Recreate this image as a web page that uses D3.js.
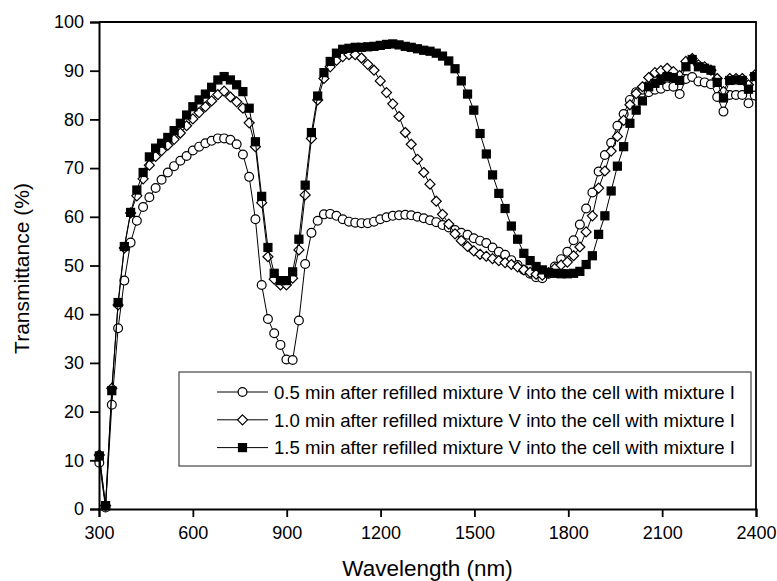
<!DOCTYPE html>
<html>
<head>
<meta charset="utf-8">
<script src="https://cdn.jsdelivr.net/npm/d3@7"></script>
<style>
  body { margin: 0; background: #fff; }
  svg { display: block; font-family: 'Liberation Sans', Arial, sans-serif; }
</style>
</head>
<body>
<div id="chart"></div>
<script>
// wavelength grid (nm)
const wavelengths = [
  301, 321, 341, 361, 381, 401, 421, 441, 461, 481,
  500, 520, 540, 560, 580, 600, 620, 640, 660, 680,
  700, 720, 740, 760, 780, 800, 820, 840, 860, 880,
  899, 919, 939, 959, 979, 999, 1019, 1039, 1059, 1079,
  1099, 1119, 1139, 1159, 1179, 1199, 1219, 1239, 1259, 1279,
  1298, 1318, 1338, 1358, 1378, 1398, 1418, 1438, 1458, 1478,
  1498, 1518, 1538, 1558, 1578, 1598, 1618, 1638, 1658, 1678,
  1697, 1717, 1737, 1757, 1777, 1797, 1817, 1837, 1857, 1877,
  1897, 1917, 1937, 1957, 1977, 1997, 2017, 2037, 2057, 2077,
  2096, 2116, 2136, 2156, 2176, 2196, 2216, 2236, 2256, 2276,
  2296, 2316, 2336, 2356, 2376, 2396
];

// transmittance (%) — 0.5 min
const series05 = [
  9.5, 0.3, 21.4, 37.1, 46.9, 54.7, 59.2, 62.0, 64.0, 65.9,
  67.6, 69.1, 70.4, 71.5, 72.5, 73.6, 74.4, 75.1, 75.6, 76.1,
  76.1, 75.8, 74.9, 72.8, 68.2, 59.5, 46.0, 39.0, 36.1, 33.7,
  30.7, 30.6, 38.7, 50.3, 56.7, 59.2, 60.5, 60.6, 60.2, 59.5,
  59.0, 58.8, 58.7, 58.7, 59.0, 59.5, 59.9, 60.2, 60.3, 60.4,
  60.3, 60.0, 59.7, 59.3, 58.9, 58.3, 57.8, 57.3, 56.7, 56.3,
  55.6, 55.1, 54.6, 53.7, 52.8, 52.2, 51.1, 50.1, 49.1, 48.3,
  47.6, 47.4, 48.3, 49.8, 51.3, 52.8, 55.2, 58.4, 61.7, 65.0,
  69.3, 72.7, 75.2, 78.7, 81.1, 84.0, 85.6, 86.1, 85.6, 86.1,
  86.3, 86.8, 86.7, 85.2, 88.3, 88.7, 87.8, 87.6, 87.2, 84.6,
  81.6, 85.0, 85.0, 85.0, 83.3, 84.9
];

// transmittance (%) — 1.0 min
const series10 = [
  11.1, 0.7, 24.8, 41.9, 53.6, 60.8, 64.3, 67.8, 70.6, 72.4,
  73.6, 74.7, 75.9, 77.2, 78.7, 80.1, 81.4, 82.6, 83.8, 85.1,
  85.8, 84.6, 83.6, 82.3, 79.3, 74.4, 62.9, 51.8, 47.2, 46.0,
  46.0, 47.4, 53.2, 64.5, 76.1, 84.0, 88.4, 90.8, 92.1, 92.9,
  93.3, 93.3, 92.6, 91.3, 90.1, 87.9, 85.5, 83.2, 80.6, 77.3,
  74.9, 71.8, 69.1, 66.7, 63.2, 60.5, 58.5, 56.5, 55.1, 53.9,
  53.0, 52.3, 51.9, 51.4, 51.0, 50.6, 50.2, 49.7, 49.1, 48.6,
  48.2, 48.0, 48.5, 49.4, 50.1, 50.7, 52.0, 53.8, 56.9, 60.2,
  65.9, 69.4, 73.5, 76.5, 79.8, 83.0, 85.3, 86.7, 88.6, 89.6,
  90.0, 90.5, 89.8, 89.0, 91.9, 92.5, 91.2, 90.8, 90.1, 88.4,
  85.7, 88.4, 88.4, 88.4, 87.1, 89.1
];

// transmittance (%) — 1.5 min
const series15 = [
  10.9, 0.7, 24.3, 42.4, 53.9, 60.9, 65.5, 69.1, 72.3, 74.1,
  75.1, 76.3, 77.7, 79.2, 80.9, 82.6, 84.0, 85.2, 86.6, 88.1,
  88.8, 88.1, 87.1, 85.7, 82.3, 75.4, 64.2, 53.7, 48.4, 46.9,
  46.9, 48.7, 55.4, 66.5, 77.3, 84.8, 89.6, 91.9, 93.6, 94.4,
  94.6, 94.8, 94.8, 94.9, 95.0, 95.2, 95.4, 95.5, 95.3, 95.0,
  94.8, 94.5, 94.2, 94.0, 93.6, 93.0, 92.0, 90.4, 87.9, 85.2,
  81.9, 77.1, 72.9, 68.6, 64.8, 61.7, 58.1, 55.4, 52.5, 51.0,
  49.8, 49.1, 48.6, 48.4, 48.3, 48.3, 48.4, 48.8, 50.2, 52.0,
  56.4, 60.2, 65.3, 70.4, 74.4, 79.2, 81.9, 83.8, 86.7, 87.4,
  88.2, 88.8, 88.6, 88.0, 90.8, 92.3, 90.8, 90.5, 90.1, 87.6,
  84.4, 88.0, 88.1, 88.0, 86.2, 88.8
];

const seriesLabels = [
  '0.5 min after refilled mixture V into the cell with mixture I',
  '1.0 min after refilled mixture V into the cell with mixture I',
  '1.5 min after refilled mixture V into the cell with mixture I'
];
const seriesMarkers = ['circle', 'diamond', 'square'];

const xTicks = [300, 600, 900, 1200, 1500, 1800, 2100, 2400];
const yTicks = [0, 10, 20, 30, 40, 50, 60, 70, 80, 90, 100];

const drawMarker = (sel, type) => {
  if (type === 'circle') {
    sel.append('circle').attr('r', 4.4).attr('fill', '#fff');
  } else if (type === 'diamond') {
    sel.append('path').attr('d', 'M0,-5L5,0L0,5L-5,0Z').attr('fill', '#fff');
  } else {
    sel.append('rect').attr('x', -4).attr('y', -4).attr('width', 8).attr('height', 8).attr('fill', '#000');
  }
  sel.selectAll('*').attr('stroke', '#000').attr('stroke-width', 1.2);
};

const render = () => {
  const width = 777;
  const height = 581;
  const margin = { top: 22, right: 21, bottom: 72, left: 99 };

  const svg = d3
    .select('#chart')
    .append('svg')
    .attr('width', width)
    .attr('height', height);

  const xScale = d3
    .scaleLinear()
    .domain([300, 2400])
    .range([margin.left, width - margin.right]);

  const yScale = d3
    .scaleLinear()
    .domain([0, 100])
    .range([height - margin.bottom, margin.top]);

  svg
    .append('clipPath')
    .attr('id', 'plot-clip')
    .append('rect')
    .attr('x', 0)
    .attr('y', 0)
    .attr('width', width - margin.right)
    .attr('height', height);

  // series
  const allSeries = [series05, series10, series15];
  const line = d3
    .line()
    .x((d) => xScale(d[0]))
    .y((d) => yScale(d[1]));

  const plot = svg.append('g').attr('clip-path', 'url(#plot-clip)');

  allSeries.forEach((values, i) => {
    const pts = wavelengths.map((w, j) => [w, values[j]]);
    plot
      .append('path')
      .datum(pts)
      .attr('d', line)
      .attr('fill', 'none')
      .attr('stroke', '#000')
      .attr('stroke-width', 1);

    plot
      .append('g')
      .selectAll('g')
      .data(pts)
      .enter()
      .append('g')
      .attr('transform', (d) => `translate(${xScale(d[0])},${yScale(d[1])})`)
      .each(function () {
        drawMarker(d3.select(this), seriesMarkers[i]);
      });
  });

  // frame
  const x0 = margin.left;
  const x1 = width - margin.right;
  const y0 = height - margin.bottom;
  const y1 = margin.top;
  svg
    .append('path')
    .attr('d', `M${x0},${y1}H${x1}V${y0}`)
    .attr('fill', 'none')
    .attr('stroke', '#000')
    .attr('stroke-width', 1.8);

  // xAxis
  const xAxis = d3
    .axisBottom(xScale)
    .tickValues(xTicks)
    .tickSize(8)
    .tickPadding(9)
    .tickFormat(d3.format('d'));

  const xAxisGroup = svg
    .append('g')
    .attr('transform', `translate(0, ${y0})`)
    .call(xAxis);

  // yAxis
  const yAxis = d3
    .axisLeft(yScale)
    .tickValues(yTicks)
    .tickSize(9)
    .tickPadding(6);

  const yAxisGroup = svg
    .append('g')
    .attr('transform', `translate(${x0}, 0)`)
    .call(yAxis);

  [xAxisGroup, yAxisGroup].forEach((g) => {
    g.select('.domain').attr('stroke-width', 2).attr('stroke', '#000');
    g.selectAll('.tick line').attr('stroke-width', 1.8).attr('stroke', '#000');
    g.selectAll('.tick text')
      .attr('fill', '#000')
      .style('font-size', '18px')
      .style('font-family', "'Liberation Sans', Arial, sans-serif");
  });

  // axis titles
  svg
    .append('text')
    .attr('x', (x0 + x1) / 2)
    .attr('y', 576)
    .attr('text-anchor', 'middle')
    .style('font-size', '22.5px')
    .text('Wavelength (nm)');

  svg
    .append('text')
    .attr('transform', `translate(29, ${(y0 + y1) / 2 + 3}) rotate(-90)`)
    .attr('text-anchor', 'middle')
    .style('font-size', '21px')
    .text('Transmittance (%)');

  // Legend
  const legend = svg.append('g').attr('id', 'legend');

  legend
    .append('rect')
    .attr('x', 179)
    .attr('y', 372)
    .attr('width', 572)
    .attr('height', 94)
    .attr('fill', '#fff')
    .attr('stroke', '#444')
    .attr('stroke-width', 1.2);

  const rows = legend
    .selectAll('.legend-row')
    .data(seriesLabels)
    .enter()
    .append('g')
    .attr('class', 'legend-row')
    .attr('transform', (d, i) => `translate(0, ${392 + i * 27.8})`);

  rows
    .append('line')
    .attr('x1', 217)
    .attr('x2', 268)
    .attr('stroke', '#000')
    .attr('stroke-width', 1);

  rows
    .append('g')
    .attr('transform', 'translate(242.5, 0)')
    .each(function (d, i) {
      drawMarker(d3.select(this), seriesMarkers[i]);
    });

  rows
    .append('text')
    .attr('x', 274)
    .attr('dy', '0.36em')
    .style('font-size', '18.6px')
    .text((d) => d);
};

render();
</script>
</body>
</html>
